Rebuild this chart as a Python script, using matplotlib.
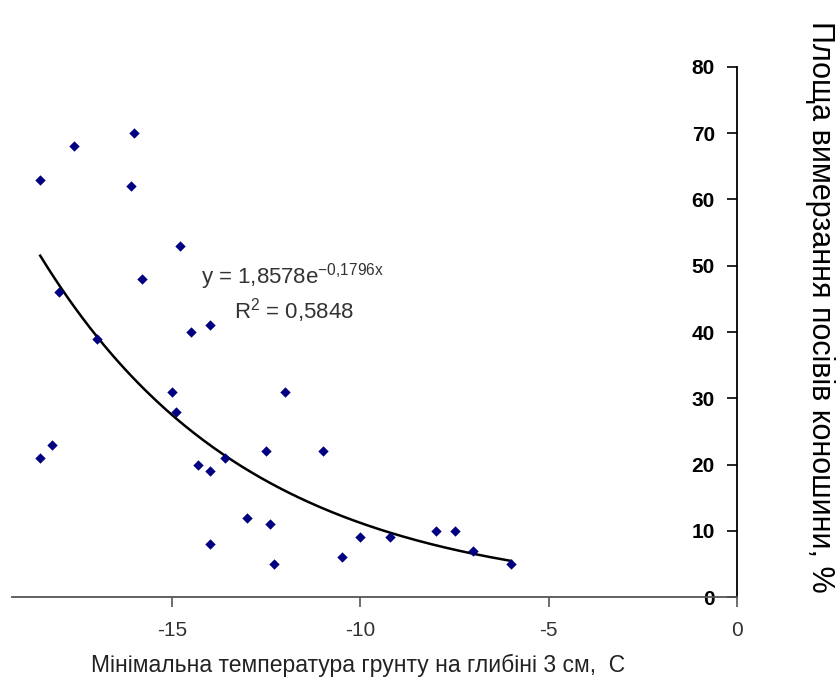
import numpy as np
import matplotlib
matplotlib.use("Agg")
import matplotlib.pyplot as plt

plt.rcParams['font.family'] = ['Liberation Sans', 'DejaVu Sans']

# мінімальна температура грунту, C
temp = [-18.5, -17.6, -16.0, -16.1, -14.8, -15.8, -18.0, -17.0, -14.5, -14.0,
        -15.0, -14.9, -12.0, -18.5, -18.2, -14.3, -14.0, -13.6, -12.5, -11.0,
        -13.0, -12.4, -14.0, -12.3, -10.5, -10.0, -9.2, -8.0, -7.5, -7.0, -6.0]
# площа вимерзання, %
area = [63, 68, 70, 62, 53, 48, 46, 39, 40, 41,
        31, 28, 31, 21, 23, 20, 19, 21, 22, 22,
        12, 11, 8, 5, 6, 9, 9, 10, 10, 7, 5]

# exponential trendline shown on the chart
coef_a = 1.8578
coef_b = -0.1796
trend_from, trend_to = -18.5, -6.0

xticks = [-15, -10, -5, 0]
yticks = [0, 10, 20, 30, 40, 50, 60, 70, 80]

fig = plt.figure(figsize=(8.37, 6.8), dpi=100)
ax = fig.add_axes([0.0143, 0.122, 0.8662, 0.7795])

ax.scatter(temp, area, marker='D', s=28, color='#000080', zorder=3, linewidths=0)

xt = np.linspace(trend_from, trend_to, 200)
ax.plot(xt, coef_a * np.exp(coef_b * xt), color='black', lw=1.8, zorder=2)

ax.set_xlim(-19.25, 0)
ax.set_ylim(0, 80)

ax.spines['top'].set_visible(False)
ax.spines['right'].set_visible(False)
ax.spines['left'].set_position(('data', 0))
ax.spines['left'].set_linewidth(1.3)
ax.spines['bottom'].set_linewidth(1.3)
ax.spines['bottom'].set_color('#555555')

ax.set_xticks(xticks)
ax.set_xticklabels([str(t) for t in xticks])
ax.set_yticks(yticks)
ax.set_yticklabels([str(t) for t in yticks], fontweight='bold')
ax.tick_params(axis='x', direction='out', length=7, width=1.2, labelsize=15,
               labelcolor='#333333', pad=10, color='#555555')
ax.tick_params(axis='y', direction='out', length=7, width=1.2, labelsize=15, pad=9)

ax.set_xlabel('Мінімальна температура грунту на глибіні 3 см,  С',
              fontsize=16.5, color='#222222', labelpad=10)
ax.xaxis.set_label_coords(0.477, -0.108)
ax.set_ylabel('Площа вимерзання посівів коношини, %', fontsize=22,
              rotation=-90, va='center', ha='center')
ax.yaxis.set_label_coords(1.115, 0.548)

ax.text(-11.8, 48.3, r'y = 1,8578e$^{\mathregular{-0{,}1796x}}$', fontsize=16,
        color='#333333', ha='center', va='center')
ax.text(-11.77, 43.2, r'R$^{\mathregular{2}}$ = 0,5848', fontsize=16,
        color='#333333', ha='center', va='center')

fig.savefig('out.png', dpi=100)
